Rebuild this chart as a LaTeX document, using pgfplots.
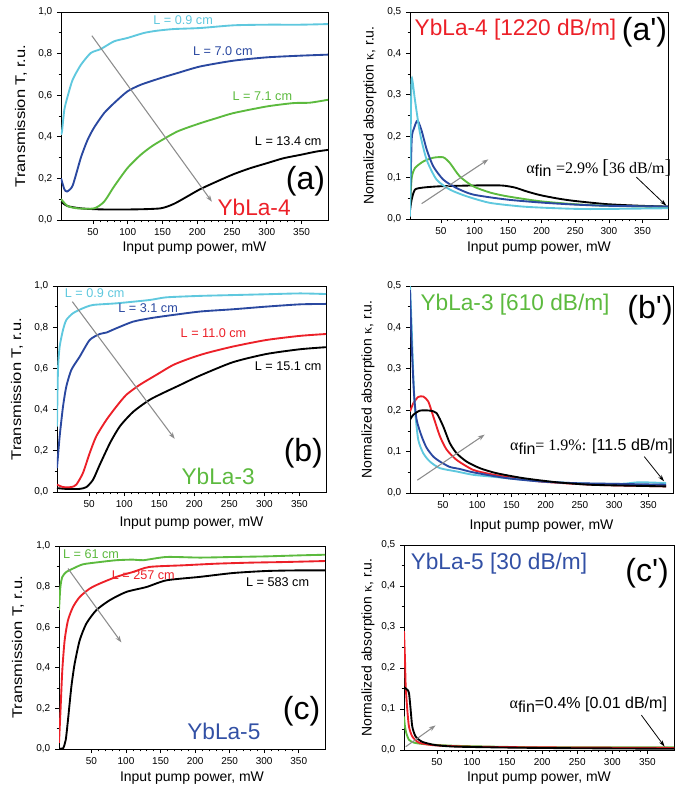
\documentclass[border=0pt]{standalone}
\usepackage{fontspec}
\setmainfont{Liberation Sans}
\newfontfamily\serif{Liberation Serif}
\newfontfamily\psans{Liberation Sans}
\usepackage{graphicx}
\usepackage{pgfplots}
\pgfplotsset{compat=1.18}
\usetikzlibrary{arrows.meta}
\definecolor{cCyan}{RGB}{95,200,222}
\definecolor{cBlue}{RGB}{42,72,160}
\definecolor{cGreen}{RGB}{92,186,62}
\definecolor{cRed}{RGB}{236,32,40}
\definecolor{cGray}{RGB}{140,140,140}
\definecolor{cTextBlue}{RGB}{50,80,165}
\pgfplotsset{
  panel/.style={
    scale only axis, anchor=south west,
    axis line style={line width=0.6pt},
    tick align=outside, xtick pos=bottom, ytick pos=left,
    xtick={50,100,...,350}, minor x tick num=4, minor y tick num=1,
    tick style={black, line width=0.5pt},
    major tick length=3pt, minor tick length=1.8pt,
    tick label style={font=\fontsize{7.5}{9}\selectfont},
    /pgf/number format/assume math mode=true,
    label style={font=\fontsize{10.5}{12}\selectfont},
    xlabel={Input pump power, mW},
    clip mode=individual,
    every axis plot/.append style={line width=1.4pt, smooth, tension=0.4, no markers},
  },
  left panel/.style={panel, ymin=0, ymax=1, ytick={0,0.2,0.4,0.6,0.8,1.0},
    yticklabel style={/pgf/number format/.cd, fixed, fixed zerofill, precision=1, use comma},
    ylabel={\scalebox{1.18}[1]{Transmission T, r.u.}}},
  right panel/.style={panel, ymin=0, ymax=0.5, ytick={0,0.1,0.2,0.3,0.4,0.5},
    yticklabel style={/pgf/number format/.cd, fixed, fixed zerofill, precision=1, use comma},
    ylabel={Normalized absorption {\serif κ}, r.u.}},
}
\tikzset{
  garrow/.style={draw=cGray, line width=0.8pt, -{Stealth[length=5pt,width=3.5pt]}},
  barrow/.style={draw=black, line width=0.6pt, -{Stealth[length=5pt,width=3pt]}},
  clab/.style={font=\fontsize{9.5}{11}\selectfont, anchor=center},
  plab/.style={font=\psans\fontsize{24}{26}\selectfont, anchor=center},
  slab/.style={font=\fontsize{17}{19}\selectfont, anchor=center},
  rlab/.style={font=\fontsize{17}{19}\selectfont, anchor=center},
  alab/.style={font=\fontsize{12}{14}\selectfont, anchor=center},
}
\begin{document}
\begin{tikzpicture}
\path[use as bounding box] (0,0) rectangle (512.25pt,-591.75pt);

% ---------------- (a)
\begin{axis}[left panel, at={(45.75pt,-165pt)}, width=200.25pt, height=156pt,
  xmin=4, xmax=388,
  ylabel style={at={(axis description cs:-0.15,0.5)}, anchor=center},
  xlabel style={at={(axis description cs:0.5,-0.135)}, anchor=center}]
\addplot[black] coordinates {(4,0.088)(13.5,0.067)(32.6,0.056)(61,0.051)(109,0.051)(147,0.056)(166,0.077)(185,0.112)(204,0.148)(228,0.185)(252,0.220)(276,0.249)(300,0.273)(324,0.297)(348,0.313)(371,0.329)(388,0.337)};
\addplot[cGreen] coordinates {(4,0.101)(13.5,0.067)(27.9,0.056)(51.7,0.056)(66,0.088)(80.3,0.161)(99.4,0.249)(118.5,0.313)(137.6,0.361)(171,0.425)(204,0.465)(228,0.490)(252,0.514)(300,0.546)(338,0.562)(362,0.564)(388,0.578)};
\addplot[cBlue] coordinates {(4,0.20)(5,0.19)(8.8,0.148)(12.6,0.137)(20.7,0.165)(32.6,0.300)(42.2,0.385)(51.7,0.445)(66,0.514)(80.3,0.562)(99.4,0.618)(118.5,0.650)(147,0.682)(171,0.706)(204,0.738)(252,0.766)(300,0.782)(348,0.790)(388,0.795)};
\addplot[cCyan] coordinates {(4,0.41)(5.4,0.425)(8.8,0.53)(13.5,0.594)(20.7,0.674)(32.6,0.746)(46.9,0.803)(61.3,0.822)(80.3,0.859)(99.4,0.875)(123,0.899)(142,0.910)(166,0.918)(204,0.923)(252,0.936)(300,0.939)(348,0.939)(388,0.942)};
\draw[garrow] (axis cs:48.4,0.886) -- (axis cs:221,0.088);
\node[clab, text=cCyan] at (axis cs:179.6,0.96) {L = 0.9 cm};
\node[clab, text=cBlue] at (axis cs:236.8,0.81) {L = 7.0 cm};
\node[clab, text=cGreen] at (axis cs:293.6,0.594) {L = 7.1 cm};
\node[clab, text=black] at (axis cs:330.8,0.377) {L = 13.4 cm};
\node[plab] at (axis cs:355.6,0.185) {(a)};
\node[slab, text=cRed] at (axis cs:281.7,0.061) {YbLa-4};
\end{axis}

% ---------------- (a')
\begin{axis}[right panel, at={(307.5pt,-164.25pt)}, width=193.5pt, height=155.25pt,
  xmin=4, xmax=388,
  ylabel style={at={(axis description cs:-0.155,0.5)}, anchor=center},
  xlabel style={at={(axis description cs:0.5,-0.14)}, anchor=center}]
\addplot[black] coordinates {(4,0.022)(6.5,0.047)(11.4,0.071)(23.8,0.076)(48.6,0.079)(98,0.081)(140,0.081)(160,0.076)(177,0.067)(197,0.058)(222,0.050)(247,0.044)(296,0.036)(346,0.032)(388,0.030)};
\addplot[cGreen] coordinates {(4,0.03)(6.5,0.099)(11.4,0.123)(23.8,0.139)(38.7,0.148)(53.6,0.149)(63.5,0.135)(78,0.103)(98,0.079)(123,0.064)(148,0.055)(197,0.043)(247,0.036)(296,0.032)(388,0.029)};
\addplot[cBlue] coordinates {(4,0.014)(6.5,0.191)(10,0.219)(15,0.238)(21,0.215)(29,0.167)(38.7,0.127)(53.6,0.095)(73,0.075)(98,0.059)(148,0.047)(197,0.040)(247,0.035)(296,0.032)(388,0.030)};
\addplot[cCyan] coordinates {(4,0.006)(5,0.2)(6.5,0.339)(11.4,0.287)(18.9,0.207)(28.8,0.143)(43.6,0.095)(63.5,0.071)(88,0.055)(123,0.039)(172,0.030)(222,0.026)(272,0.024)(388,0.026)};
\draw[garrow] (axis cs:21.3,0.037) -- (axis cs:120.5,0.144);
\draw[barrow] (axis cs:341,0.101) -- (axis cs:385.6,0.032);
\node[rlab, text=cRed] at (axis cs:161,0.457) {YbLa-4 [1220 dB/m]};
\node[plab] at (axis cs:353,0.452) {(a')};
\node[alab] at (axis cs:285,0.123) {{\serif α}\raisebox{-0.45ex}{fin} {\serif =2.9\% {\fontsize{15}{15}\selectfont[}36 dB/m{\fontsize{15}{15}\selectfont]}}};
\end{axis}

% ---------------- (b)
\begin{axis}[left panel, at={(42.75pt,-369pt)}, width=201.75pt, height=154.5pt,
  xmin=4, xmax=388,
  ylabel style={at={(axis description cs:-0.149,0.5)}, anchor=center},
  xlabel style={at={(axis description cs:0.5,-0.15)}, anchor=center}]
\addplot[black] coordinates {(4,0.019)(17,0.015)(36,0.015)(46,0.024)(55.5,0.06)(65,0.132)(80,0.24)(94,0.32)(113,0.39)(136,0.447)(155,0.48)(180,0.52)(208,0.565)(255,0.63)(303,0.67)(351,0.693)(388,0.703)};
\addplot[cRed] coordinates {(4,0.036)(12.6,0.024)(24.5,0.024)(31.6,0.036)(41,0.092)(50.7,0.189)(60,0.27)(74.5,0.35)(88.8,0.415)(103,0.472)(122,0.52)(146,0.569)(170,0.617)(194,0.649)(217,0.674)(255,0.706)(303,0.738)(351,0.758)(388,0.767)};
\addplot[cBlue] coordinates {(4,0.116)(7.8,0.27)(12.6,0.415)(17.3,0.512)(24.5,0.593)(36.4,0.657)(50.7,0.738)(65,0.767)(74.5,0.774)(88.8,0.795)(112.6,0.827)(136,0.843)(160,0.855)(208,0.876)(255,0.887)(303,0.900)(351,0.911)(388,0.913)};
\addplot[cCyan] coordinates {(4,0.318)(5.4,0.593)(7.8,0.706)(12.6,0.787)(17.3,0.835)(26.9,0.868)(41,0.892)(55.5,0.908)(89,0.916)(136,0.932)(160,0.945)(208,0.952)(255,0.956)(303,0.960)(351,0.964)(388,0.961)};
\draw[garrow] (axis cs:25.9,0.924) -- (axis cs:172,0.258);
\node[clab, text=cCyan] at (axis cs:57.8,0.964) {L = 0.9 cm};
\node[clab, text=cBlue] at (axis cs:134,0.892) {L = 3.1 cm};
\node[clab, text=cRed] at (axis cs:227.4,0.771) {L = 11.0 cm};
\node[clab, text=black] at (axis cs:334,0.609) {L = 15.1 cm};
\node[plab] at (axis cs:355.6,0.189) {(b)};
\node[slab, text=cGreen] at (axis cs:234,0.076) {YbLa-3};
\end{axis}

% ---------------- (b')
\begin{axis}[right panel, at={(307.5pt,-369.75pt)}, width=197.25pt, height=155.25pt,
  xmin=2, xmax=386,
  ylabel style={at={(axis description cs:-0.16,0.5)}, anchor=center},
  xlabel style={at={(axis description cs:0.5,-0.16)}, anchor=center}]
\addplot[cRed] coordinates {(2,0.197)(6.9,0.217)(14,0.232)(21.4,0.233)(28.7,0.221)(36,0.185)(45.7,0.137)(55.4,0.105)(70,0.080)(94,0.056)(118.5,0.046)(143,0.039)(191,0.028)(240,0.0225)(288,0.019)(376,0.016)};
\addplot[cCyan] coordinates {(2,0.5)(4.4,0.402)(6.9,0.281)(9.3,0.201)(14,0.129)(21.4,0.096)(31,0.076)(45.7,0.060)(70,0.052)(94,0.044)(118.5,0.040)(167,0.032)(215.6,0.026)(264,0.0225)(313,0.0225)(337,0.026)(376,0.024)};
\addplot[cBlue] coordinates {(2,0.49)(4.4,0.362)(7.8,0.241)(11.7,0.177)(19,0.137)(26.3,0.109)(36,0.088)(45.7,0.076)(60,0.063)(74.8,0.058)(94,0.050)(143,0.036)(191,0.028)(240,0.024)(288,0.0225)(376,0.020)};
\addplot[black] coordinates {(2,0.177)(6.9,0.189)(16.6,0.199)(31,0.199)(40.8,0.193)(50.5,0.161)(60,0.121)(70,0.096)(84.5,0.076)(104,0.060)(128,0.048)(167,0.036)(215.6,0.026)(264,0.020)(313,0.018)(376,0.016)};
\draw[garrow] (axis cs:12.7,0.031) -- (axis cs:111,0.141);
\draw[barrow] (axis cs:344,0.088) -- (axis cs:373,0.028);
\node[rlab, text=cGreen] at (axis cs:155.4,0.454) {YbLa-3 [610 dB/m]};
\node[plab] at (axis cs:352.5,0.442) {(b')};
\node[alab] at (axis cs:267,0.1125) {{\serif α}\raisebox{-0.45ex}{fin}{\serif = 1.9\%:} [11.5 dB/m]};
\end{axis}

% ---------------- (c)
\begin{axis}[left panel, at={(44.25pt,-561.75pt)}, width=199.5pt, height=152.25pt,
  xmin=3, xmax=388,
  ylabel style={at={(axis description cs:-0.154,0.5)}, anchor=center},
  xlabel style={at={(axis description cs:0.5,-0.143)}, anchor=center}]
\addplot[black] coordinates {(3,0.003)(8.8,0.003)(12.7,0.044)(16,0.143)(20.9,0.307)(25.7,0.421)(33,0.536)(42.6,0.618)(57,0.684)(76.4,0.733)(100.6,0.774)(129.6,0.798)(158.6,0.831)(207,0.848)(255,0.867)(303.5,0.877)(352,0.88)(388,0.88)};
\addplot[cRed] coordinates {(3,0.03)(5,0.175)(7.8,0.389)(11.2,0.536)(16,0.634)(23.3,0.7)(33,0.749)(47.4,0.79)(62,0.815)(86,0.848)(110,0.872)(134,0.897)(183,0.905)(231,0.913)(279,0.918)(327.6,0.921)(388,0.926)};
\addplot[cGreen] coordinates {(3,0.684)(5,0.798)(7.8,0.848)(13.6,0.872)(23.3,0.889)(37.8,0.91)(62,0.921)(86,0.93)(110,0.933)(125,0.93)(158.6,0.946)(207,0.943)(255,0.946)(303.5,0.949)(352,0.954)(388,0.957)};
\draw[garrow] (axis cs:16,0.889) -- (axis cs:93.3,0.525);
\node[clab, text=cGreen] at (axis cs:49.4,0.959) {L = 61 cm};
\node[clab, text=cRed] at (axis cs:125,0.856) {L = 257 cm};
\node[clab, text=black] at (axis cs:319.4,0.823) {L = 583 cm};
\node[plab] at (axis cs:354,0.184) {(c)};
\node[slab, text=cTextBlue] at (axis cs:241.6,0.085) {YbLa-5};
\end{axis}

% ---------------- (c')
\begin{axis}[right panel, at={(303pt,-562.5pt)}, width=202.5pt, height=153.75pt,
  xmin=3, xmax=388,
  ylabel style={at={(axis description cs:-0.133,0.5)}, anchor=center},
  xlabel style={at={(axis description cs:0.5,-0.137)}, anchor=center}]
\addplot[cGreen] coordinates {(3,0.082)(4.4,0.057)(6.3,0.041)(10.1,0.025)(17.2,0.018)(33.8,0.014)(81,0.010)(197,0.0065)(388,0.0065)};
\addplot[cRed] coordinates {(3,0.29)(4.4,0.221)(5.4,0.156)(7.7,0.098)(10.1,0.057)(14.8,0.033)(24.3,0.018)(43,0.012)(64.5,0.010)(102,0.008)(197,0.0065)(388,0.005)};
\addplot[black] coordinates {(3,0.153)(7.7,0.147)(10.1,0.139)(12.5,0.098)(14.8,0.057)(19.6,0.033)(29,0.020)(48,0.012)(81,0.008)(197,0.005)(388,0.003)};
\draw[garrow] (axis cs:5.4,0.008) -- (axis cs:48,0.06);
\draw[barrow] (axis cs:341.5,0.085) -- (axis cs:374.7,0.008);
\node[rlab, text=cTextBlue] at (axis cs:138.4,0.455) {YbLa-5 [30 dB/m]};
\node[plab] at (axis cs:349.6,0.431) {(c')};
\node[alab] at (axis cs:265.8,0.11) {{\serif α}\raisebox{-0.45ex}{fin}=0.4\% [0.01 dB/m]};
\end{axis}
\end{tikzpicture}
\end{document}
